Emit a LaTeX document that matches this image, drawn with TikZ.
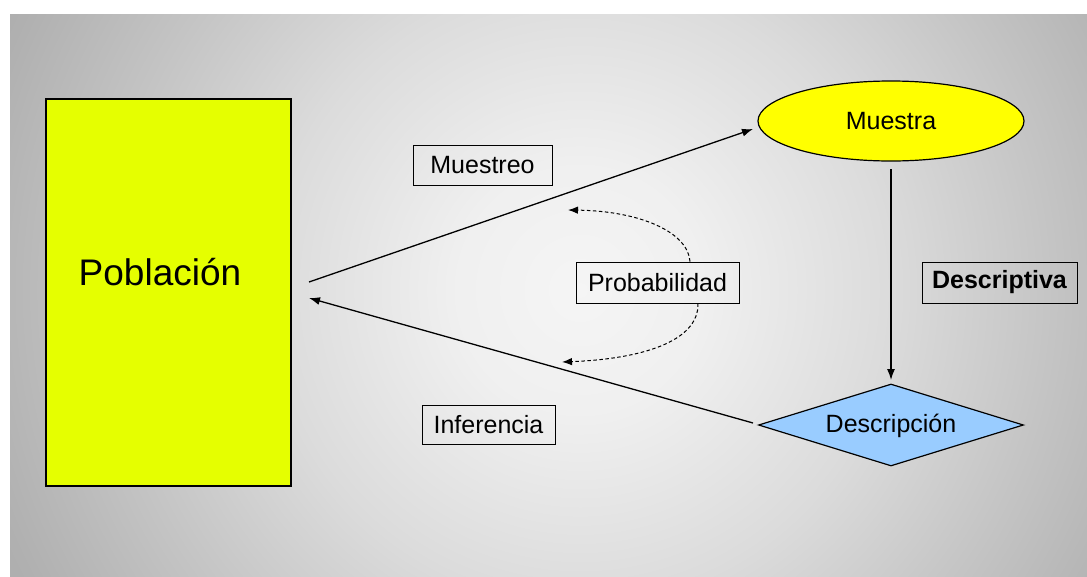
\documentclass[tikz,border=0pt]{standalone}
\usepackage{fontspec}
\setmainfont{Liberation Sans}
\usetikzlibrary{shapes.geometric,arrows.meta}

% soft grey backdrop, light in the middle
\pgfdeclareradialshading{bgglow}{\pgfpoint{0bp}{0bp}}{%
  rgb(0bp)=(0.96,0.96,0.96);
  rgb(5bp)=(0.94,0.94,0.94);
  rgb(12.5bp)=(0.86,0.86,0.86);
  rgb(19bp)=(0.77,0.77,0.77);
  rgb(25bp)=(0.69,0.69,0.69);
  rgb(30bp)=(0.65,0.65,0.65);
  rgb(40bp)=(0.63,0.63,0.63)}

\definecolor{popyellow}{RGB}{229,255,0}
\definecolor{muestrayellow}{RGB}{255,255,0}
\definecolor{descblue}{RGB}{153,204,255}

\tikzset{
  label box/.style={draw=black, line width=0.9pt, inner sep=0pt,
    font=\fontsize{25}{30}\selectfont, text=black},
  flow/.style={draw=black, line width=1.3pt, -{Latex[length=11pt,width=8pt]}},
  hint/.style={draw=black, line width=1pt, dash pattern=on 3.5pt off 2.5pt,
    -{Latex[length=10pt,width=7.5pt]}},
}

\begin{document}
\begin{tikzpicture}[x=1pt,y=-1pt]
  \useasboundingbox (0,0) rectangle (1087,576);
  \fill[white] (0,0) rectangle (1087,576);
  \begin{scope}
    \clip (10,14) rectangle (1087,576);
    \shade[shading=bgglow] (580-620,290-620) rectangle (580+620,290+620);
  \end{scope}

  % main shapes
  \node[draw=black, line width=1.5pt, fill=popyellow, minimum width=245pt,
        minimum height=387pt, inner sep=0pt] (pob) at (168.5,292.5) {};
  \node[font=\fontsize{37}{44}\selectfont, inner sep=0pt] (pobtext) at (160,272) {Población};
  \node[ellipse, draw=black, line width=1.2pt, fill=muestrayellow,
        minimum width=266pt, minimum height=80pt, inner sep=0pt,
        font=\fontsize{25}{30}\selectfont] (mue) at (891,121) {Muestra};
  \node[diamond, draw=black, line width=1.2pt, fill=descblue, aspect=3.23,
        minimum width=265pt, minimum height=82pt, inner sep=0pt] (des) at (891,425) {};
  \node[font=\fontsize{25}{30}\selectfont, inner sep=0pt] (destext) at (891,426) {Descripción};

  % labels
  \node[label box, minimum width=139pt, minimum height=40pt] (lmue) at (482.5,165) {Muestreo};
  \node[label box, minimum width=133pt, minimum height=39pt] (linf) at (488.5,424.5) {Inferencia};
  \node[label box, minimum width=163pt, minimum height=41pt] (lprob) at (657.5,282.5) {Probabilidad};
  \node[label box, minimum width=155pt, minimum height=41pt,
        font=\fontsize{25}{30}\selectfont\bfseries] (ldesc) at (999.5,282.5) {Descriptiva};

  % connector end points
  \coordinate (pobA) at (309,282);
  \coordinate (pobB) at (309,298);
  \coordinate (mueIn) at (753,129);
  \coordinate (desOut) at (753,423);
  \coordinate (mueOut) at (891,169);
  \coordinate (desIn) at (891,380);
  \coordinate (upTip) at (568,210);
  \coordinate (downTip) at (562,362);

  % solid flows
  \draw[flow] (pobA) -- (mueIn);
  \draw[flow] (desOut) -- (pobB);
  \draw[flow] (mueOut) -- (desIn);

  % dashed probability loops
  \draw[hint] (lprob.north -| 690,0) .. controls (688,232) and (640,211) .. (upTip);
  \draw[hint] (lprob.south -| 698,0) .. controls (699,342) and (640,359) .. (downTip);
\end{tikzpicture}
\end{document}
